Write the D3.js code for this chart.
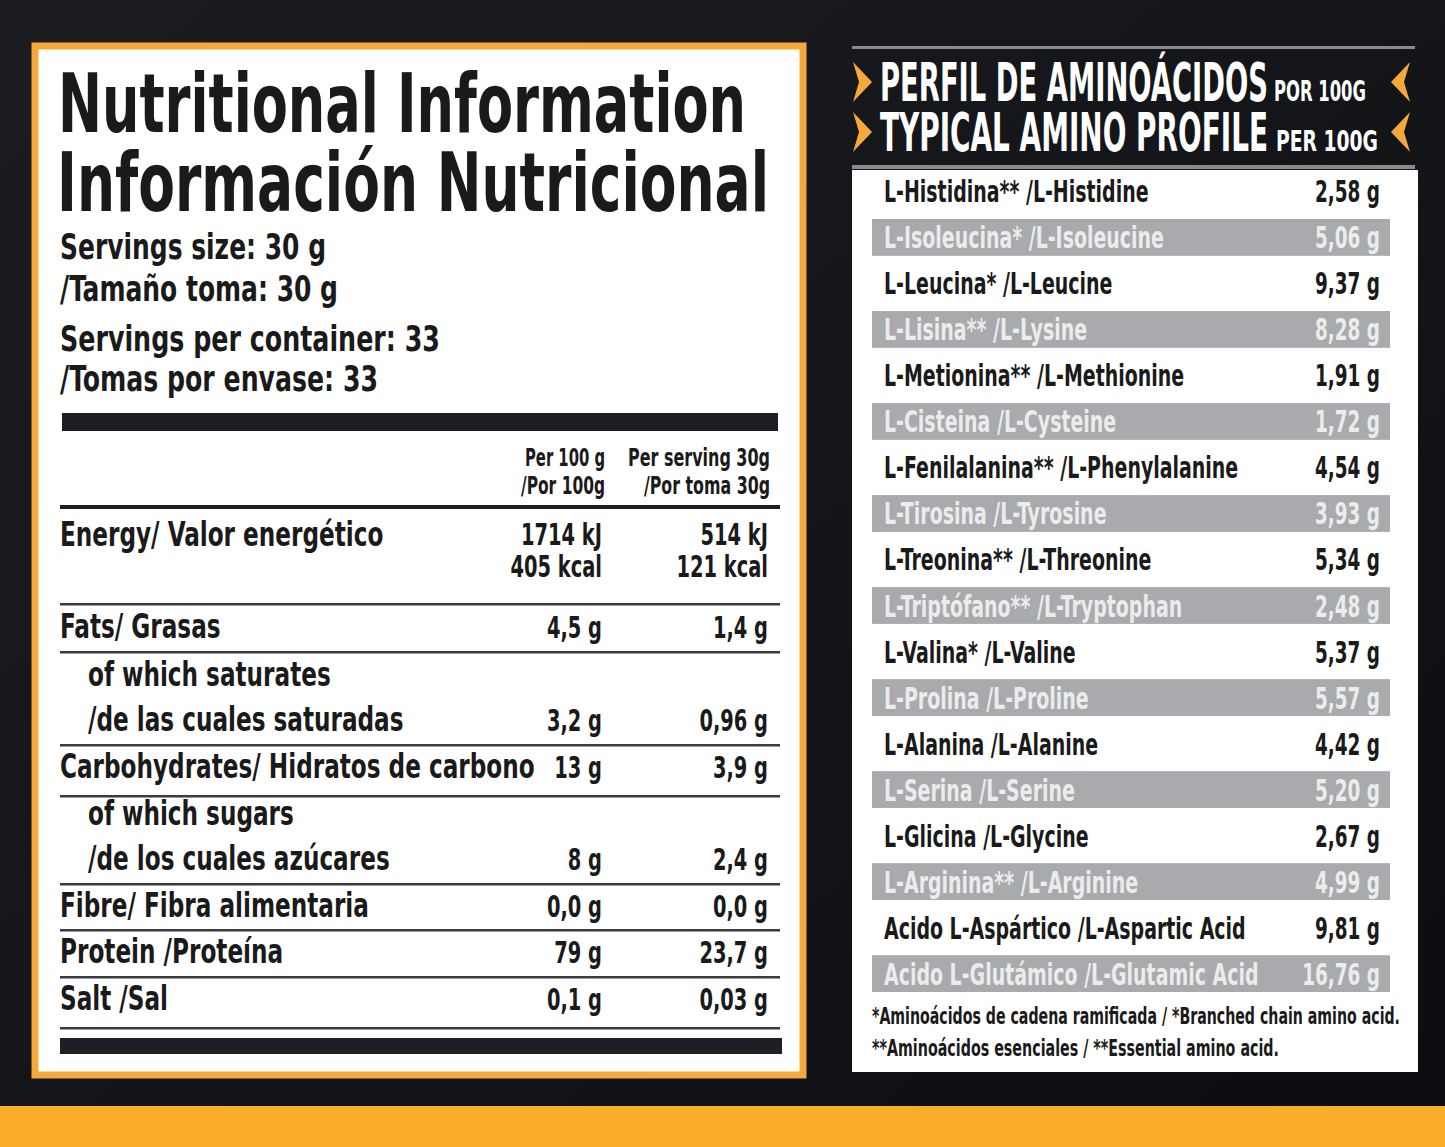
<!DOCTYPE html>
<html><head><meta charset="utf-8">
<script src="https://cdn.jsdelivr.net/npm/d3@7"></script>
<style>body{margin:0;background:#111}svg{display:block}</style>
</head><body>
<svg id="c"></svg>
<script>
const W = 1445, H = 1147;
const FONT = "'Liberation Sans Narrow','DejaVu Sans Condensed','Roboto Condensed',sans-serif";

// Nutrition table data
const nutrLabels = ["Energy/ Valor energético", "Fats/ Grasas", "/de las cuales saturadas",
  "Carbohydrates/ Hidratos de carbono", "/de los cuales azúcares", "Fibre/ Fibra alimentaria",
  "Protein /Proteína", "Salt /Sal"];
const per100 = [["1714 kJ", "405 kcal"], ["4,5 g"], ["3,2 g"], ["13 g"], ["8 g"], ["0,0 g"], ["79 g"], ["0,1 g"]];
const perServing = [["514 kJ", "121 kcal"], ["1,4 g"], ["0,96 g"], ["3,9 g"], ["2,4 g"], ["0,0 g"], ["23,7 g"], ["0,03 g"]];
const subHeads = ["of which saturates", null, "of which sugars"];

// Amino profile data
const aminoNames = ["L-Histidina** /L-Histidine", "L-Isoleucina* /L-Isoleucine", "L-Leucina* /L-Leucine",
  "L-Lisina** /L-Lysine", "L-Metionina** /L-Methionine", "L-Cisteina /L-Cysteine",
  "L-Fenilalanina** /L-Phenylalanine", "L-Tirosina /L-Tyrosine", "L-Treonina** /L-Threonine",
  "L-Triptófano** /L-Tryptophan", "L-Valina* /L-Valine", "L-Prolina /L-Proline",
  "L-Alanina /L-Alanine", "L-Serina /L-Serine", "L-Glicina /L-Glycine",
  "L-Arginina** /L-Arginine", "Acido L-Aspártico /L-Aspartic Acid", "Acido L-Glutámico /L-Glutamic Acid"];
const aminoValues = [2.58, 5.06, 9.37, 8.28, 1.91, 1.72, 4.54, 3.93, 5.34, 2.48, 5.37, 5.57, 4.42, 5.20, 2.67, 4.99, 9.81, 16.76];

const svg = d3.select("#c").attr("width", W).attr("height", H);
const fmt = v => v.toFixed(2).replace(".", ",") + " g";

function txt(g, x, y, s, size, opts = {}) {
  const t = g.append("text").attr("x", x).attr("y", y).text(s)
    .attr("font-family", FONT).attr("font-weight", "bold").attr("font-size", size)
    .attr("fill", opts.fill || "#1a1a1a").attr("text-anchor", opts.anchor || "start");
  let w = opts.w;
  if (!w && opts.cond) w = t.node().getComputedTextLength() * opts.cond;
  if (w) t.attr("textLength", w).attr("lengthAdjust", "spacingAndGlyphs");
  return t;
}

// background
const bg = svg.append("defs").append("linearGradient").attr("id", "bg").attr("x1", 0).attr("x2", 1).attr("y1", 0).attr("y2", 1);
bg.append("stop").attr("offset", 0).attr("stop-color", "#1b1d22");
bg.append("stop").attr("offset", 1).attr("stop-color", "#0c0d10");
svg.append("rect").attr("width", W).attr("height", H).attr("fill", "url(#bg)");
svg.append("rect").attr("y", 1106).attr("width", W).attr("height", 41).attr("fill", "#f9ad2a");

// ---------- left panel ----------
const L = svg.append("g");
L.append("rect").attr("x", 35).attr("y", 46).attr("width", 768).attr("height", 1029)
  .attr("fill", "#fff").attr("stroke", "#f5a93a").attr("stroke-width", 7);
txt(L, 58, 132, "Nutritional Information", 82, { w: 688 });
txt(L, 57, 211, "Información Nutricional", 82, { w: 712 });
txt(L, 60, 259, "Servings size: 30 g", 36, { w: 266 });
txt(L, 60, 301, "/Tamaño toma: 30 g", 36, { w: 278 });
txt(L, 60, 351, "Servings per container: 33", 36, { w: 380 });
txt(L, 60, 391, "/Tomas por envase: 33", 36, { w: 318 });
L.append("rect").attr("x", 62).attr("y", 413).attr("width", 716).attr("height", 18).attr("fill", "#1e1f24");

const col1 = 605, col2 = 770;
txt(L, col1, 466, "Per 100 g", 25, { anchor: "end", w: 80 });
txt(L, col1, 494, "/Por 100g", 25, { anchor: "end", w: 84 });
txt(L, col2, 466, "Per serving 30g", 25, { anchor: "end", w: 142 });
txt(L, col2, 494, "/Por toma 30g", 25, { anchor: "end", w: 126 });
L.append("rect").attr("x", 60).attr("y", 505).attr("width", 720).attr("height", 4).attr("fill", "#1e1f24");

const rowBase = [546, 638, 731, 778, 870, 917, 963, 1010];
const lineY = [604, 652, 745, 796, 884, 930, 977, 1028];
const subBase = [686, null, 825];
nutrLabels.forEach((lab, i) => {
  const indent = lab.startsWith("/de") ? 88 : 60;
  txt(L, indent, rowBase[i], lab, 33, { cond: 0.78 });
  per100[i].forEach((v, j) => txt(L, col1 - 3, rowBase[i] - (i === 0 ? 1 : 0) + j * 32, v, 30, { anchor: "end", cond: 0.72 }));
  perServing[i].forEach((v, j) => txt(L, col2 - 2, rowBase[i] - (i === 0 ? 1 : 0) + j * 32, v, 30, { anchor: "end", cond: 0.72 }));
  L.append("rect").attr("x", 60).attr("y", lineY[i] - 1).attr("width", 720).attr("height", 2.5).attr("fill", "#3a3b40");
});
subHeads.forEach((s, k) => { if (s) txt(L, 88, subBase[k], s, 33, { cond: 0.78 }); });
L.append("rect").attr("x", 60).attr("y", 1038).attr("width", 722).attr("height", 16).attr("fill", "#1e1f24");

// ---------- right panel ----------
const R = svg.append("g");
R.append("rect").attr("x", 852).attr("y", 46).attr("width", 563).attr("height", 3).attr("fill", "#8a8b8f");
R.append("rect").attr("x", 852).attr("y", 165).attr("width", 563).attr("height", 4).attr("fill", "#8a8b8f");
R.append("rect").attr("x", 852).attr("y", 170).attr("width", 566).attr("height", 902).attr("fill", "#fff");

txt(R, 880, 101, "PERFIL DE AMINOÁCIDOS", 54, { fill: "#fff", w: 388 });
txt(R, 1274, 101, "POR 100G", 28, { fill: "#fff", w: 92 });
txt(R, 880, 151, "TYPICAL AMINO PROFILE", 54, { fill: "#fff", w: 388 });
txt(R, 1276, 151, "PER 100G", 28, { fill: "#fff", w: 102 });
[82, 132].forEach(cy => {
  R.append("path").attr("d", `M853,${cy - 20} L872,${cy} L853,${cy + 20} L859,${cy} Z`).attr("fill", "#f5a93a");
  R.append("path").attr("d", `M1410,${cy - 20} L1391,${cy} L1410,${cy + 20} L1404,${cy} Z`).attr("fill", "#f5a93a");
});

const y = d3.scaleBand().domain(d3.range(aminoNames.length)).range([173, 992]).paddingInner(0.2);
aminoNames.forEach((n, i) => {
  const odd = i % 2 === 1;
  if (odd) R.append("rect").attr("x", 872).attr("y", y(i)).attr("width", 518).attr("height", y.bandwidth())
    .attr("fill", "#a8aaad");
  const by = y(i) + y.bandwidth() / 2 + 11;
  const fill = odd ? "#ececec" : "#1a1a1a";
  txt(R, 884, by, n, 31, { fill, cond: 0.68 });
  txt(R, 1380, by, fmt(aminoValues[i]), 31, { fill, anchor: "end", cond: 0.66 });
});
txt(R, 872, 1024, "*Aminoácidos de cadena ramificada / *Branched chain amino acid.", 23, { w: 528 });
txt(R, 872, 1056, "**Aminoácidos esenciales / **Essential amino acid.", 23, { w: 407 });
</script>
</body></html>
